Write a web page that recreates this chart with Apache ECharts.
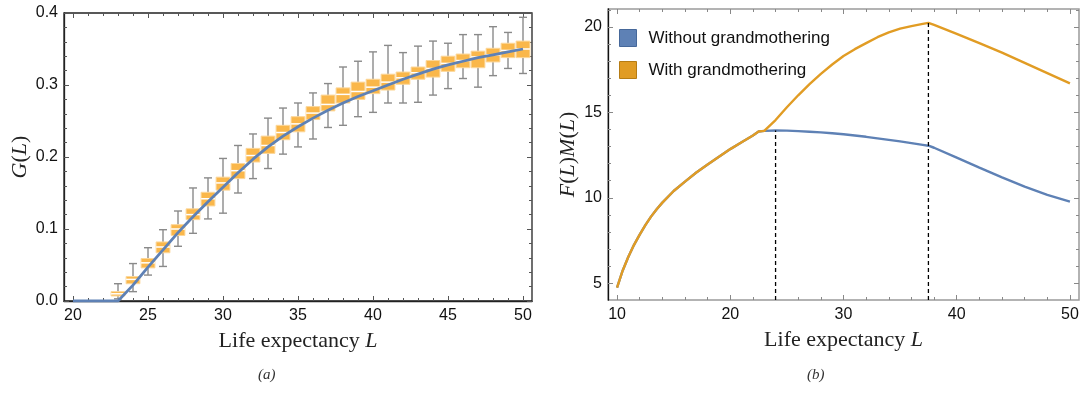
<!DOCTYPE html>
<html>
<head>
<meta charset="utf-8">
<title>G(L) and F(L)M(L)</title>
<script src="https://cdn.jsdelivr.net/npm/echarts@6.0.0/dist/echarts.min.js"></script>
<style>
  html, body { margin: 0; padding: 0; background: #fff; }
  #main { width: 1087px; height: 409px; }
</style>
</head>
<body>
<div id="main"></div>
<script>
// ---- panel (a): simulated G(L), box per life expectancy ----
var boxL      = [23, 24, 25, 26, 27, 28, 29, 30, 31, 32, 33, 34, 35, 36, 37, 38, 39, 40, 41, 42, 43, 44, 45, 46, 47, 48, 49, 50];
var boxQ1     = [0.007, 0.024, 0.046, 0.067, 0.091, 0.113, 0.132, 0.154, 0.170, 0.193, 0.205, 0.224, 0.235, 0.252, 0.264, 0.275, 0.280, 0.288, 0.293, 0.301, 0.308, 0.311, 0.319, 0.324, 0.324, 0.332, 0.338, 0.338];
var boxMedian = [0.010, 0.030, 0.053, 0.075, 0.100, 0.120, 0.142, 0.164, 0.181, 0.202, 0.216, 0.234, 0.246, 0.261, 0.273, 0.287, 0.291, 0.297, 0.304, 0.310, 0.317, 0.323, 0.330, 0.334, 0.339, 0.342, 0.348, 0.350];
var boxQ3     = [0.013, 0.034, 0.059, 0.082, 0.106, 0.128, 0.151, 0.172, 0.191, 0.212, 0.229, 0.244, 0.256, 0.270, 0.286, 0.296, 0.304, 0.308, 0.315, 0.318, 0.325, 0.334, 0.340, 0.343, 0.347, 0.351, 0.358, 0.361];
var whiskLow  = [0.003, 0.013, 0.036, 0.048, 0.076, 0.094, 0.114, 0.122, 0.150, 0.170, 0.184, 0.204, 0.214, 0.225, 0.241, 0.244, 0.256, 0.262, 0.275, 0.275, 0.276, 0.286, 0.295, 0.309, 0.297, 0.313, 0.323, 0.316];
var whiskHigh = [0.024, 0.052, 0.074, 0.099, 0.125, 0.157, 0.171, 0.198, 0.216, 0.232, 0.254, 0.268, 0.275, 0.289, 0.302, 0.325, 0.333, 0.346, 0.355, 0.345, 0.354, 0.361, 0.358, 0.370, 0.370, 0.381, 0.373, 0.394];

// analytic G(L) curve
var gL     = [20, 21, 22, 23, 24, 25, 26, 27, 28, 29, 30, 31, 32, 33, 34, 35, 36, 37, 38, 39, 40, 41, 42, 43, 44, 45, 46, 47, 48, 49, 50];
var gValue = [0, 0, 0, 0, 0.022, 0.047, 0.071, 0.095, 0.117, 0.138, 0.158, 0.178, 0.197, 0.214, 0.229, 0.242, 0.254, 0.265, 0.275, 0.284, 0.292, 0.300, 0.308, 0.315, 0.322, 0.328, 0.333, 0.338, 0.342, 0.346, 0.350];

// ---- panel (b): F(L)M(L) ----
var fmL = [10, 10.5, 11, 11.5, 12, 12.5, 13, 13.5, 14, 15, 16, 17, 18, 19, 20, 21, 22, 22.5, 23, 24, 25, 26, 27, 28, 29, 30, 31, 32, 33, 34, 35, 36, 37, 37.5, 38, 40, 42, 44, 46, 48, 50];
var withoutGM = [4.75, 5.75, 6.55, 7.25, 7.85, 8.4, 8.9, 9.33, 9.72, 10.4, 10.95, 11.48, 11.95, 12.4, 12.85, 13.25, 13.65, 13.88, 13.92, 13.94, 13.93, 13.9, 13.87, 13.83, 13.78, 13.72, 13.65, 13.57, 13.48, 13.39, 13.3, 13.2, 13.1, 13.05, 12.93, 12.35, 11.77, 11.2, 10.65, 10.17, 9.78];
var withGM    = [4.75, 5.75, 6.55, 7.25, 7.85, 8.4, 8.9, 9.33, 9.72, 10.4, 10.95, 11.48, 11.95, 12.4, 12.85, 13.25, 13.65, 13.88, 13.92, 14.55, 15.3, 16.0, 16.65, 17.25, 17.8, 18.3, 18.7, 19.05, 19.4, 19.68, 19.9, 20.05, 20.18, 20.24, 20.12, 19.6, 19.05, 18.5, 17.9, 17.3, 16.7];
var optimumL     = [24, 37.5];
var optimumValue = [13.94, 20.24];

// tick labels
var aXTicks = [20, 25, 30, 35, 40, 45, 50];
var aYTicks = [0, 0.1, 0.2, 0.3, 0.4];
var bXTicks = [10, 20, 30, 40, 50];
var bYTicks = [5, 10, 15, 20];

var BLUE = '#5E81B5', ORANGE = '#E19C24';
var SANS = 'Liberation Sans', SERIF = 'Liberation Serif';

function steps(from, to, step) {
  var out = [];
  for (var v = from; v <= to + 1e-9; v += step) out.push(Math.round(v * 1000) / 1000);
  return out;
}

// four axes per side pair: main (labels + major ticks), main minor, opposite major, opposite minor
function frameAxes(dim, gridIndex, min, max, major, minor, o) {
  var pos = dim === 'x' ? ['bottom', 'top'] : ['left', 'right'];
  function ax(p, ticks, len, labels, line) {
    return {
      type: 'value', gridIndex: gridIndex, position: p, min: min, max: max,
      splitLine: {show: false},
      axisLine: {show: !!line, onZero: false, lineStyle: line || {}},
      axisTick: {show: true, inside: true, length: len, customValues: ticks,
                 lineStyle: {color: o.tickColor, width: 1}},
      axisLabel: labels ? {show: true, customValues: major, formatter: o.fmt, margin: o.margin,
                           color: '#111', fontFamily: SANS, fontSize: 16} : {show: false},
      name: labels ? o.name : '',
      nameLocation: 'middle', nameGap: o.nameGap, nameRotate: dim === 'y' ? 90 : 0,
      nameTextStyle: o.nameStyle
    };
  }
  return [
    ax(pos[0], major, 5, true, o.mainLine),
    ax(pos[0], minor, 3, false, null),
    ax(pos[1], major, 5, false, null),
    ax(pos[1], minor, 3, false, null)
  ];
}

var richName = {
  t: {fontFamily: SERIF, fontSize: 22, color: '#222'},
  i: {fontFamily: SERIF, fontSize: 22, fontStyle: 'italic', color: '#222'}
};
var xName = '{t|Life expectancy }{i|L}';

var xAxes = []
  .concat(frameAxes('x', 0, 19.4, 50.6, aXTicks, steps(20, 50, 1), {
    tickColor: '#555', margin: 7, fmt: function (v) { return String(v); },
    name: xName, nameGap: 29, nameStyle: {rich: richName},
    mainLine: {color: '#222', width: 1.3}
  }))
  .concat(frameAxes('x', 1, 9.2, 50.8, bXTicks, steps(10, 50, 2), {
    tickColor: '#888', margin: 7, fmt: function (v) { return String(v); },
    name: xName, nameGap: 29, nameStyle: {rich: richName},
    mainLine: null
  }));

var yAxes = []
  .concat(frameAxes('y', 0, 0, 0.4, aYTicks, steps(0, 0.4, 0.02), {
    tickColor: '#555', margin: 6, fmt: function (v) { return v.toFixed(1); },
    name: '{i|G}{t|(}{i|L}{t|)}', nameGap: 33, nameStyle: {rich: richName},
    mainLine: {color: '#222', width: 1.3}
  }))
  .concat(frameAxes('y', 1, 4.02, 21.05, bYTicks, steps(5, 21, 1), {
    tickColor: '#888', margin: 6, fmt: function (v) { return String(v); },
    name: '{i|F}{t|(}{i|L}{t|)}{i|M}{t|(}{i|L}{t|)}', nameGap: 29, nameStyle: {rich: richName},
    mainLine: {color: '#111', width: 1.3}
  }));

function drawBox(params, api) {
  var L = api.value(0);
  var pQ1 = api.coord([L, api.value(1)]);
  var pMed = api.coord([L, api.value(2)]);
  var pQ3 = api.coord([L, api.value(3)]);
  var pLo = api.coord([L, api.value(4)]);
  var pHi = api.coord([L, api.value(5)]);
  var half = api.size([0.92, 0])[0] / 2;
  var cap = 4;
  var whisker = {stroke: '#8a8a8a', lineWidth: 1.4};
  return {
    type: 'group',
    children: [
      {type: 'line', shape: {x1: pLo[0], y1: pLo[1], x2: pHi[0], y2: pHi[1]}, style: whisker},
      {type: 'line', shape: {x1: pLo[0] - cap, y1: pLo[1], x2: pLo[0] + cap, y2: pLo[1]}, style: whisker},
      {type: 'line', shape: {x1: pHi[0] - cap, y1: pHi[1], x2: pHi[0] + cap, y2: pHi[1]}, style: whisker},
      {type: 'rect', shape: {x: pQ3[0] - half, y: pQ3[1], width: half * 2, height: pQ1[1] - pQ3[1]},
       style: {fill: '#FAB74A', stroke: '#FCD79A', lineWidth: 1}},
      {type: 'line', shape: {x1: pMed[0] - half, y1: pMed[1], x2: pMed[0] + half, y2: pMed[1]},
       style: {stroke: '#fff', lineWidth: 1.5}}
    ]
  };
}

function pairs(xs, ys) { return xs.map(function (x, i) { return [x, ys[i]]; }); }

var boxData = boxL.map(function (L, i) {
  return [L, boxQ1[i], boxMedian[i], boxQ3[i], whiskLow[i], whiskHigh[i]];
});

var dashedSeries = optimumL.map(function (L, i) {
  return {
    type: 'line', xAxisIndex: 4, yAxisIndex: 4, symbol: 'none', silent: true, z: 5,
    lineStyle: {color: '#000', width: 1.3, type: [4, 3]},
    data: [[L, 4.02], [L, optimumValue[i]]]
  };
});

var chart = echarts.init(document.getElementById('main'));
chart.setOption({
  animation: false,
  backgroundColor: '#fff',
  grid: [
    {left: 64, top: 13, width: 468, height: 288, show: true, borderColor: '#222', borderWidth: 1.3, backgroundColor: 'transparent'},
    {left: 608, top: 9, width: 471, height: 291, show: true, borderColor: '#9a9a9a', borderWidth: 1.5, backgroundColor: 'transparent'}
  ],
  xAxis: xAxes,
  yAxis: yAxes,
  legend: {
    orient: 'vertical', left: 619, top: 29, padding: 0, itemWidth: 17, itemHeight: 17, itemGap: 14,
    icon: 'rect',
    textStyle: {fontFamily: SANS, fontSize: 17, color: '#111', padding: [0, 0, 0, 7]},
    data: [
      {name: 'Without grandmothering', itemStyle: {color: BLUE, borderColor: '#46689a', borderWidth: 1}},
      {name: 'With grandmothering', itemStyle: {color: ORANGE, borderColor: '#b67c14', borderWidth: 1}}
    ]
  },
  graphic: [
    {type: 'text', left: 258, top: 368, style: {text: '(a)', fontFamily: SERIF, fontStyle: 'italic', fontSize: 15, fill: '#333'}},
    {type: 'text', left: 807, top: 368, style: {text: '(b)', fontFamily: SERIF, fontStyle: 'italic', fontSize: 15, fill: '#333'}}
  ],
  series: [
    {
      type: 'custom', name: 'simulation', xAxisIndex: 0, yAxisIndex: 0, z: 2,
      renderItem: drawBox,
      encode: {x: 0, y: [1, 2, 3, 4, 5]},
      data: boxData
    },
    {
      type: 'line', name: 'G(L)', xAxisIndex: 0, yAxisIndex: 0, z: 4,
      symbol: 'none', lineStyle: {color: BLUE, width: 2.8},
      data: pairs(gL, gValue)
    },
    {
      type: 'line', name: 'Without grandmothering', xAxisIndex: 4, yAxisIndex: 4, z: 3,
      symbol: 'none', color: BLUE, lineStyle: {color: BLUE, width: 2.4},
      data: pairs(fmL, withoutGM)
    },
    {
      type: 'line', name: 'With grandmothering', xAxisIndex: 4, yAxisIndex: 4, z: 4,
      symbol: 'none', color: ORANGE, lineStyle: {color: ORANGE, width: 2.4},
      data: pairs(fmL, withGM)
    }
  ].concat(dashedSeries)
});
</script>
</body>
</html>
